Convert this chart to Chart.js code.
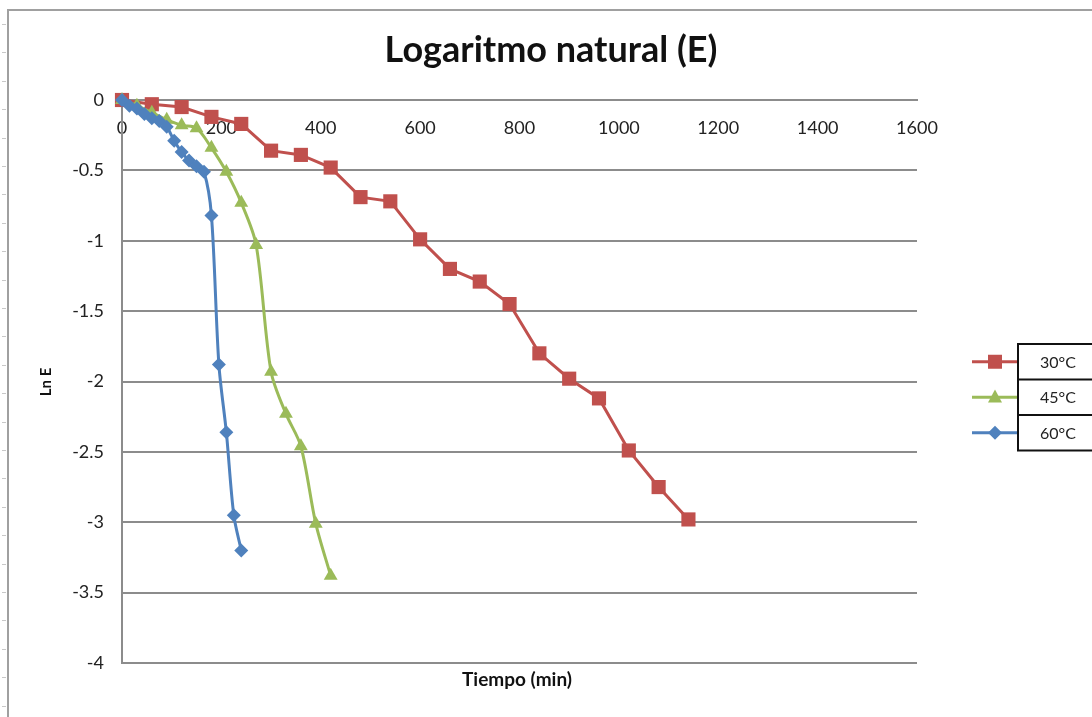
<!DOCTYPE html>
<html>
<head>
<meta charset="utf-8">
<script src="https://cdn.jsdelivr.net/npm/chart.js@4.4.6/dist/chart.umd.min.js"></script>
<style>
  html,body{margin:0;padding:0;background:#fff;}
  #wrap{width:1092px;height:717px;position:relative;}
</style>
</head>
<body>
<div id="wrap"><canvas id="c" width="1092" height="717"></canvas></div>
<script>
// Ln E vs tiempo, three temperatures (Excel-style scatter with lines)
const seriesNames = ['30°C', '45°C', '60°C'];

const time30 = [0, 60, 120, 180, 240, 300, 360, 420, 480, 540, 600, 660, 720, 780, 840, 900, 960, 1020, 1080, 1140];
const ln30   = [0, -0.03, -0.05, -0.12, -0.17, -0.36, -0.39, -0.48, -0.69, -0.72, -0.99, -1.20, -1.29, -1.45, -1.80, -1.98, -2.12, -2.49, -2.75, -2.98];

const time45 = [0, 30, 60, 90, 120, 150, 180, 210, 240, 270, 300, 330, 360, 390, 420];
const ln45   = [0, -0.04, -0.09, -0.14, -0.18, -0.20, -0.34, -0.51, -0.73, -1.03, -1.93, -2.23, -2.46, -3.01, -3.38];

const time60 = [0, 15, 30, 45, 60, 75, 90, 105, 120, 135, 150, 165, 180, 195, 210, 225, 240];
const ln60   = [0, -0.04, -0.06, -0.10, -0.13, -0.15, -0.19, -0.29, -0.37, -0.43, -0.47, -0.51, -0.82, -1.88, -2.36, -2.95, -3.20];

const xTicks = [0, 200, 400, 600, 800, 1000, 1200, 1400, 1600];
const yTicks = [0, -0.5, -1, -1.5, -2, -2.5, -3, -3.5, -4];

const RED = '#C0504D', GREEN = '#9BBB59', BLUE = '#4F81BD';
const GRID = '#8c8c8c';
const FONT = 'Lato, "Open Sans", sans-serif';

function pts(xs, ys){ return xs.map((x,i)=>({x, y: ys[i]})); }

// legend entries share styles with the datasets
const legendItems = [
  {label: seriesNames[0], color: RED,   style: 'rect'},
  {label: seriesNames[1], color: GREEN, style: 'triangle'},
  {label: seriesNames[2], color: BLUE,  style: 'rectRot'},
];

function marker(ctx, style, x, y, s){
  ctx.beginPath();
  if(style === 'rect'){
    ctx.rect(x - s, y - s, 2*s, 2*s);
  } else if(style === 'triangle'){
    ctx.moveTo(x, y - s*1.1);
    ctx.lineTo(x + s, y + s*0.75);
    ctx.lineTo(x - s, y + s*0.75);
    ctx.closePath();
  } else {
    ctx.moveTo(x, y - s); ctx.lineTo(x + s, y); ctx.lineTo(x, y + s); ctx.lineTo(x - s, y);
    ctx.closePath();
  }
  ctx.fill();
}

const decor = {
  id: 'decor',
  beforeDraw(chart){
    const ctx = chart.ctx;
    ctx.save();
    ctx.fillStyle = '#fff';
    ctx.fillRect(0, 0, chart.width, chart.height);
    // sheet frame
    ctx.strokeStyle = '#a0a0a0';
    ctx.lineWidth = 2;
    ctx.beginPath();
    ctx.moveTo(8, chart.height); ctx.lineTo(8, 10); ctx.lineTo(chart.width, 10);
    ctx.stroke();
    ctx.strokeStyle = '#c8c8c8';
    ctx.lineWidth = 1;
    for(let y = 24; y < chart.height; y += 28.4){
      ctx.beginPath(); ctx.moveTo(2, Math.round(y)+0.5); ctx.lineTo(6, Math.round(y)+0.5); ctx.stroke();
    }
    ctx.restore();
  },
  afterDraw(chart){
    const ctx = chart.ctx;
    const ca = chart.chartArea;
    ctx.save();
    ctx.fillStyle = '#111';
    ctx.textAlign = 'center';
    ctx.textBaseline = 'middle';
    ctx.font = 'bold 36px ' + FONT;
    ctx.fillText('Logaritmo natural (E)', 551, 50);
    ctx.font = 'bold 19px ' + FONT;
    ctx.fillText('Tiempo (min)', 517, 680);
    ctx.save();
    ctx.translate(46, 382);
    ctx.rotate(-Math.PI/2);
    ctx.font = 'bold 15px ' + FONT;
    ctx.fillText('Ln E', 0, 0);
    ctx.restore();

    // legend
    const bx = 1018, top = 344, rowH = 35.5;
    legendItems.forEach((it, i) => {
      const cy = top + rowH*i + rowH/2;
      ctx.strokeStyle = it.color;
      ctx.lineWidth = 3;
      ctx.beginPath(); ctx.moveTo(972, cy); ctx.lineTo(bx, cy); ctx.stroke();
      ctx.fillStyle = it.color;
      marker(ctx, it.style, 995, cy, 7);
      ctx.fillStyle = '#222';
      ctx.font = '16px ' + FONT;
      ctx.fillText(it.label, 1058, cy + 1);
    });
    ctx.strokeStyle = '#111';
    ctx.lineWidth = 2;
    ctx.strokeRect(bx, top, 120, rowH*3);
    for(let i=1;i<3;i++){
      ctx.beginPath(); ctx.moveTo(bx, top + rowH*i); ctx.lineTo(bx + 120, top + rowH*i); ctx.stroke();
    }
    ctx.restore();
  }
};

new Chart(document.getElementById('c'), {
  type: 'scatter',
  data: {
    datasets: [
      {label: seriesNames[0], data: pts(time30, ln30), showLine: true, borderColor: RED, backgroundColor: RED,
       borderWidth: 3, pointStyle: 'rect', pointRadius: 10, pointBorderWidth: 0, tension: 0, clip: false, order: 3},
      {label: seriesNames[1], data: pts(time45, ln45), showLine: true, borderColor: GREEN, backgroundColor: GREEN,
       borderWidth: 3, pointStyle: 'triangle', pointRadius: 8, pointBorderWidth: 0, tension: 0.3, clip: false, order: 2},
      {label: seriesNames[2], data: pts(time60, ln60), showLine: true, borderColor: BLUE, backgroundColor: BLUE,
       borderWidth: 3, pointStyle: 'rectRot', pointRadius: 7, pointBorderWidth: 0, tension: 0.3, clip: false, order: 1},
    ]
  },
  options: {
    responsive: false,
    animation: false,
    events: [],
    layout: {padding: {left: 0, top: 100, right: 175, bottom: 54}},
    plugins: {legend: {display: false}, tooltip: {enabled: false}, title: {display: false}},
    scales: {
      x: {
        type: 'linear',
        position: {y: 0},
        min: xTicks[0], max: xTicks[xTicks.length-1],
        afterBuildTicks: (s) => { s.ticks = xTicks.map(v => ({value: v})); },
        grid: {display: false, drawTicks: false},
        border: {display: true, color: GRID, width: 2},
        ticks: {color: '#222', font: {family: FONT, size: 18}, padding: 17, maxRotation: 0,
                callback: (v) => String(v)}
      },
      y: {
        type: 'linear',
        min: -4, max: 0,
        afterBuildTicks: (s) => { s.ticks = yTicks.slice().reverse().map(v => ({value: v})); },
        afterFit: (s) => { s.width = 122; },
        grid: {color: GRID, lineWidth: 2, drawTicks: false},
        border: {display: true, color: GRID, width: 2},
        ticks: {color: '#222', font: {family: FONT, size: 18}, padding: 18,
                callback: (v) => String(v)}
      }
    }
  },
  plugins: [decor]
});
</script>
</body>
</html>
